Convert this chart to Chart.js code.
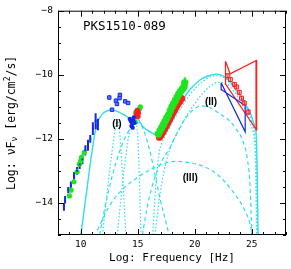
<!DOCTYPE html>
<html><head><meta charset="utf-8">
<script src="https://cdn.jsdelivr.net/npm/chart.js@4.4.0/dist/chart.umd.min.js"></script>
<style>html,body{margin:0;padding:0;background:#fff;}canvas{display:block;}</style>
</head><body>
<canvas id="c" width="291" height="269"></canvas>
<script>
// ---- axis ticks ----
const xTicks = [10, 15, 20, 25];
const yTicks = [-8, -10, -12, -14];

// ---- data (log nu, log nuFnu) ----
const radioX   = [8.52, 8.62, 8.9, 9.13, 9.41, 9.67, 9.9, 10.14, 10.4, 10.63, 10.83, 11.06, 11.3, 11.5];
const radioY   = [-14.12, -13.9, -13.6, -13.45, -13.15, -13.0, -12.8, -12.64, -12.36, -12.2, -12.0, -11.68, -11.45, -11.55];
const radioErr = [0.12, 0.12, 0.1, 0.12, 0.12, 0.12, 0.14, 0.15, 0.16, 0.17, 0.12, 0.2, 0.25, 0.18];
const radioGreen = [[9.0,-13.78],[9.15,-13.6],[9.4,-13.34],[9.68,-13.03],[9.87,-12.79],[10.0,-12.68],[10.06,-12.58],[10.3,-12.42]];
const opticalX   = [12.5, 12.74, 13.08, 13.17, 13.43, 13.4, 13.89, 14.15];
const opticalY   = [-10.71, -11.09, -10.81, -10.91, -10.63, -10.73, -10.83, -10.88];
const opticalErr = [0.07, 0.05, 0.07, 0.06, 0.07, 0.05, 0.06, 0.06];
const uvBlue  = [[14.3,-11.38],[14.4,-11.45],[14.5,-11.5],[14.6,-11.42],[14.45,-11.6],[14.55,-11.65],[14.7,-11.5],[14.65,-11.33]];
const uvRed   = [[14.88,-11.24],[14.95,-11.12],[15.04,-11.19],[15.0,-11.3]];
const uvGreen = [[14.78,-11.48],[14.82,-11.17],[15.16,-11.06],[15.22,-11.0]];
const xrayGreen = [[16.8,-11.85],[16.95,-11.75],[17.1,-11.65],[17.25,-11.55],[17.4,-11.45],[17.55,-11.35],[17.7,-11.25],[17.85,-11.12],[18.0,-11.0],[18.15,-10.9],[18.3,-10.8],[18.45,-10.7],[18.6,-10.6],[18.75,-10.52],[18.9,-10.45],[19.05,-10.38],[19.12,-10.25]];
const xrayRed = [[16.9,-11.95],[17.05,-11.87],[17.2,-11.78],[17.35,-11.68],[17.5,-11.58],[17.65,-11.48],[17.8,-11.38],[17.95,-11.28],[18.1,-11.18],[18.25,-11.08],[18.4,-10.98],[18.55,-10.9],[18.7,-10.82],[18.85,-10.74]];
const xrayGreenErr = [[19.13,-10.5,-10.08]];
const fermiX   = [22.9, 23.12, 23.47, 23.67, 23.9, 24.1, 24.34, 24.68];
const fermiY   = [-10.03, -10.15, -10.3, -10.38, -10.55, -10.73, -10.88, -11.16];
const fermiErr = [0.08, 0.07, 0.07, 0.07, 0.08, 0.08, 0.09, 0.1];
const bowtieRed  = [[22.69,-9.58],[23.1,-9.97],[25.4,-9.55],[25.4,-11.72],[22.72,-10.3],[22.69,-9.58]];
const bowtieRedEdge = [[25.4,-9.55],[25.4,-11.72]];
const bowtieBlue = [[22.31,-10.25],[24.42,-11.78],[24.42,-10.96],[22.9,-10.6],[22.37,-10.47],[22.31,-10.25]];

// ---- model curves ----
const totalModel = [[10.0,-15],[10.5,-13.68],[11.0,-12.35],[11.3,-11.72],[11.55,-11.42],[11.9,-11.22],[12.3,-11.13],[12.65,-11.1],[13.0,-11.12],[13.4,-11.17],[13.8,-11.25],[14.1,-11.32],[14.4,-11.45],[14.65,-11.5],[14.85,-11.4],[15.0,-11.36],[15.15,-11.45],[15.4,-11.6],[15.8,-11.72],[16.3,-11.83],[16.7,-11.9],[17.0,-11.95],[17.4,-11.85],[17.7,-11.65],[18.2,-11.3],[18.7,-10.95],[19.1,-10.7],[19.6,-10.45],[20.1,-10.27],[20.6,-10.13],[21.2,-10.03],[21.9,-9.98],[22.5,-10.04],[23.0,-10.18],[23.5,-10.4],[24.0,-10.66],[24.5,-10.95],[24.9,-11.22],[25.2,-11.55],[25.4,-11.95],[25.47,-13],[25.55,-15]];
const synchI  = [[11.9,-15],[12.3,-13.7],[12.7,-12.5],[13.0,-11.75],[13.2,-11.45],[13.37,-11.65],[13.6,-12.8],[13.8,-14.0],[13.95,-15]];
const diskModel = [[13.2,-15],[13.6,-13.6],[14.0,-12.4],[14.38,-11.6],[14.65,-11.5],[14.9,-11.6],[15.05,-12.3],[15.2,-14.0],[15.28,-15]];
const synchII = [[11.65,-15],[12.2,-14.0],[12.8,-13.1],[13.4,-12.4],[13.9,-11.95],[14.4,-11.65],[14.8,-11.52],[15.1,-11.5],[15.5,-11.72],[16.0,-12.3],[16.5,-13.1],[17.0,-13.95],[17.4,-14.5],[17.75,-15]];
const ecModel  = [[16.3,-15],[16.55,-13.6],[16.85,-12.5],[17.2,-12.05],[17.7,-11.72],[18.3,-11.32],[19.0,-10.92],[19.7,-10.56],[20.3,-10.33],[21.0,-10.13],[21.8,-10.03],[22.5,-10.07],[23.2,-10.3],[23.9,-10.65],[24.5,-11.0],[24.95,-11.4],[25.25,-11.9],[25.4,-12.7],[25.48,-15]];
const ec2Model = [[16.5,-15],[17.0,-13.6],[17.5,-12.7],[18.0,-12.15],[18.6,-11.72],[19.3,-11.27],[20.0,-10.9],[20.6,-10.62],[21.3,-10.37],[22.0,-10.24],[22.7,-10.27],[23.4,-10.5],[24.0,-10.82],[24.6,-11.22],[25.05,-11.72],[25.3,-12.4],[25.42,-15]];
const compII  = [[15.4,-15],[15.9,-14.0],[16.5,-13.2],[17.1,-12.7],[17.7,-12.35],[18.4,-11.85],[19.2,-11.35],[19.9,-11.08],[20.6,-10.97],[21.4,-11.04],[22.2,-11.22],[23.0,-11.42],[23.6,-11.68],[24.2,-12.05],[24.6,-12.6],[24.85,-13.5],[25.0,-15]];
const compIII = [[11.45,-14.85],[12.5,-14.1],[13.65,-13.58],[15.0,-13.2],[16.0,-12.98],[17.2,-12.78],[18.3,-12.7],[19.6,-12.75],[20.9,-12.88],[22.1,-13.15],[23.2,-13.58],[24.2,-14.1],[24.8,-14.6],[25.05,-15]];

// ---- colours ----
const CYAN = '#2EDDF0', BLUE = '#1428E8', GREEN = '#1EE61E', RED = '#FF1E1E';

const P = a => a.map(p => ({x: p[0], y: p[1]}));
const errSegs = (xs, ys, es) => { const out = []; xs.forEach((x, i) => { out.push({x, y: ys[i] - es[i]}, {x, y: ys[i] + es[i]}, {x: null, y: null}); }); return out; };

const curve = (data, dash, width) => ({data: P(data), showLine: true, pointRadius: 0, borderColor: CYAN, borderWidth: width || 1.2, borderDash: dash, fill: false, cubicInterpolationMode: 'monotone', order: 20});
const poly = (data, color, width) => ({data: P(data), showLine: true, pointRadius: 0, borderColor: color, borderWidth: width, tension: 0, fill: false, order: 5});
const errs = (xs, ys, es, color, width) => ({data: errSegs(xs, ys, es), showLine: true, spanGaps: false, pointRadius: 0, borderColor: color, borderWidth: width, tension: 0, order: 3});
const pts = (data, color, style, r, extra) => Object.assign({data: P(data), showLine: false, pointStyle: style, pointRadius: r, backgroundColor: color, borderColor: color, borderWidth: 0, order: 1}, extra || {});

const datasets = [
  curve(compIII, [4, 3]),
  curve(compII, [4, 3]),
  curve(synchII, [4, 3]),
  curve(synchI, [1.5, 2]),
  curve(diskModel, [1.5, 2]),
  curve(ecModel, [1.5, 2]),
  curve(ec2Model, [1.5, 2]),
  curve(totalModel, [], 1.4),
  poly(bowtieBlue, BLUE, 1.2),
  poly(bowtieRed, RED, 1.2),
  poly(bowtieRedEdge, '#FF7070', 2.2),
  errs(radioX, radioY, radioErr, BLUE, 2),
  pts(radioX.map((x, i) => [x, radioY[i]]), BLUE, 'rect', 1.3),
  pts(radioGreen, GREEN, 'circle', 2.6),
  errs(opticalX, opticalY, opticalErr, BLUE, 1),
  pts(opticalX.map((x, i) => [x, opticalY[i]]), '#5A78FF', 'rect', 2.4, {borderColor: BLUE, borderWidth: 1}),
  pts(uvBlue, BLUE, 'circle', 2.2),
  pts(uvRed, RED, 'circle', 2.8),
  pts(uvGreen, GREEN, 'circle', 2.6),
  errs(xrayGreenErr.map(e => e[0]), xrayGreenErr.map(e => (e[1] + e[2]) / 2), xrayGreenErr.map(e => (e[2] - e[1]) / 2), GREEN, 2),
  pts(xrayGreen, GREEN, 'circle', 3.7),
  pts(xrayRed, RED, 'circle', 3.6),
  errs(fermiX, fermiY, fermiErr, RED, 1),
  pts(fermiX.map((x, i) => [x, fermiY[i]]), 'rgba(255,60,60,0.25)', 'rect', 2.8, {borderColor: RED, borderWidth: 1})
];

const MONO = '"DejaVu Sans Mono", monospace';

const decor = {
  id: 'decor',
  afterDatasetsDraw(chart) {
    const {ctx, chartArea: a, scales: {x, y}} = chart;
    ctx.save();
    ctx.strokeStyle = '#000'; ctx.lineWidth = 1;
    ctx.strokeRect(a.left + 0.5, a.top + 0.5, a.right - a.left - 1, a.bottom - a.top - 1);
    ctx.beginPath();
    for (let v = x.min; v <= x.max + 1e-9; v += 1) {
      const px = Math.round(x.getPixelForValue(v)) + 0.5;
      const len = (v % 5 === 0) ? 6 : 3;
      ctx.moveTo(px, a.bottom); ctx.lineTo(px, a.bottom - len);
      ctx.moveTo(px, a.top); ctx.lineTo(px, a.top + len);
    }
    for (let v = y.min; v <= y.max + 1e-9; v += 0.5) {
      const py = Math.round(y.getPixelForValue(v)) + 0.5;
      const len = (Math.abs(v) % 2 === 0) ? 6 : 3;
      ctx.moveTo(a.left, py); ctx.lineTo(a.left + len, py);
      ctx.moveTo(a.right, py); ctx.lineTo(a.right - len, py);
    }
    ctx.stroke();

    // source name
    ctx.fillStyle = '#000';
    ctx.font = '12.5px ' + MONO;
    ctx.textAlign = 'left'; ctx.textBaseline = 'middle';
    ctx.fillText('PKS1510-089', a.left + 25, a.top + 16);

    // component labels
    ctx.font = 'bold 10px "Liberation Sans", Arial, sans-serif';
    ctx.textAlign = 'center';
    ctx.fillText('(I)', x.getPixelForValue(13.17), y.getPixelForValue(-11.55));
    ctx.fillText('(II)', x.getPixelForValue(21.42), y.getPixelForValue(-10.85));
    ctx.fillText('(III)', x.getPixelForValue(19.6), y.getPixelForValue(-13.24));

    // y-axis title with sub/superscripts
    const fs = 11.5, small = 8;
    const parts = [
      {t: 'Log: \u03BDF', f: fs, dy: 0},
      {t: '\u03BD', f: small, dy: 3},
      {t: ' [erg/cm', f: fs, dy: 0},
      {t: '2', f: small, dy: -4.5},
      {t: '/s]', f: fs, dy: 0}
    ];
    let total = 0;
    parts.forEach(p => { ctx.font = p.f + 'px ' + MONO; p.w = ctx.measureText(p.t).width; total += p.w; });
    ctx.translate(12, (a.top + a.bottom) / 2);
    ctx.rotate(-Math.PI / 2);
    ctx.textAlign = 'left'; ctx.textBaseline = 'middle';
    let cx = -total / 2;
    parts.forEach(p => { ctx.font = p.f + 'px ' + MONO; ctx.fillText(p.t, cx, p.dy); cx += p.w; });
    ctx.restore();
  }
};

new Chart(document.getElementById('c'), {
  type: 'scatter',
  data: {datasets},
  options: {
    responsive: false, animation: false, devicePixelRatio: 1,
    layout: {padding: {top: 4, right: 2, left: 0, bottom: 0}},
    plugins: {legend: {display: false}, tooltip: {enabled: false}},
    scales: {
      x: {
        type: 'linear', min: 8, max: 28,
        afterBuildTicks: s => { s.ticks = xTicks.map(v => ({value: v})); },
        afterFit: s => { s.height = 34; },
        grid: {display: false, drawTicks: false}, border: {display: false},
        ticks: {padding: 4, color: '#000', font: {family: MONO, size: 9.5}, callback: v => String(v)},
        title: {display: true, text: 'Log: Frequency [Hz]', color: '#000', font: {family: MONO, size: 11}, padding: {top: 0, bottom: 4}}
      },
      y: {
        type: 'linear', min: -15, max: -8,
        afterBuildTicks: s => { s.ticks = yTicks.map(v => ({value: v})); },
        afterFit: s => { s.width = 58; },
        grid: {display: false, drawTicks: false}, border: {display: false},
        ticks: {padding: 5, color: '#000', font: {family: MONO, size: 9.5}, callback: v => (v < 0 ? '\u2212' : '') + Math.abs(v)}
      }
    }
  },
  plugins: [decor]
});
</script>
</body></html>
